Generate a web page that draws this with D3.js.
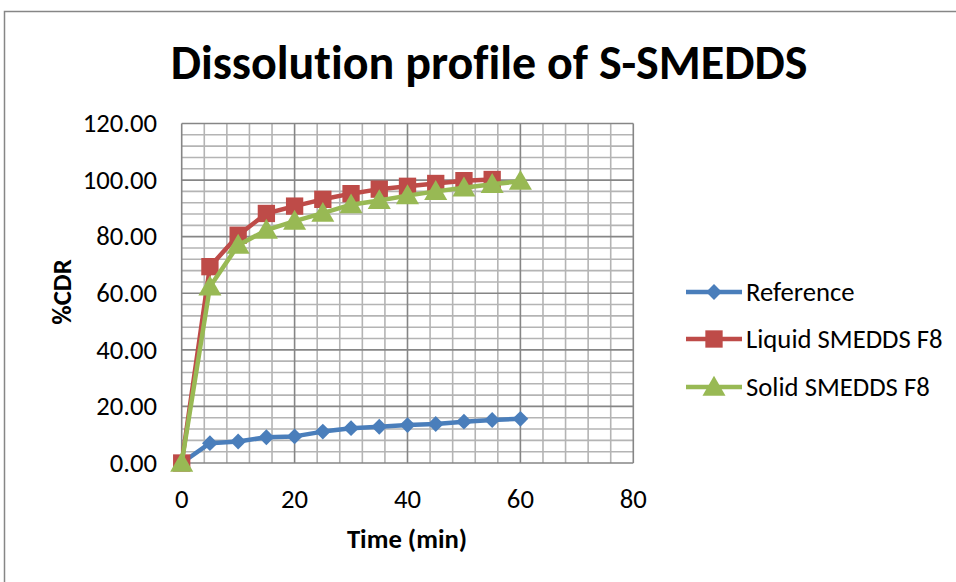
<!DOCTYPE html>
<html>
<head>
<meta charset="utf-8">
<script src="https://cdn.jsdelivr.net/npm/d3@7"></script>
<style>
  body { margin: 0; background: #fff; }
  svg text { font-family: Carlito, Lato, sans-serif; fill: #000; font-variant-ligatures: none; }
</style>
</head>
<body>
<div id="chart"></div>
<script>
// time points (min)
var times = [0, 5, 10, 15, 20, 25, 30, 35, 40, 45, 50, 55, 60];
var timesLiquid = [0, 5, 10, 15, 20, 25, 30, 35, 40, 45, 50, 55];

// %CDR values
var reference = [0, 7.0, 7.6, 9.1, 9.4, 11.1, 12.3, 12.8, 13.4, 13.8, 14.6, 15.2, 15.6];
var liquid = [0, 69.4, 80.5, 88.2, 90.8, 93.2, 95.2, 96.8, 97.8, 98.8, 99.8, 100.2];
var solid = [0, 62.3, 77.0, 82.3, 85.5, 88.3, 91.3, 92.8, 94.5, 96.0, 97.3, 98.5, 99.6];

var seriesNames = ["Reference", "Liquid SMEDDS F8", "Solid SMEDDS F8"];
var xTicks = [0, 20, 40, 60, 80];
var yTicks = [0, 20, 40, 60, 80, 100, 120];

var width = 956, height = 582;
var svg = d3.select("#chart").append("svg")
    .attr("width", width)
    .attr("height", height);

// chart border (only top and left visible in frame)
svg.append("rect")
    .attr("x", 4.5).attr("y", 11.5)
    .attr("width", 1000).attr("height", 700)
    .attr("fill", "none")
    .attr("stroke", "#868686")
    .attr("stroke-width", 1.5);

var plot = {left: 181.7, right: 633.3, top: 123.5, bottom: 463};

var x = d3.scaleLinear().domain([0, 80]).range([plot.left, plot.right]);
var y = d3.scaleLinear().domain([0, 120]).range([plot.bottom, plot.top]);

// minor gridlines every 4
var minor = d3.range(0, 121, 4);
svg.append("g").selectAll("line.mx")
    .data(minor.filter(function (d) { return d <= 80 && d % 20 !== 0; }))
    .enter().append("line")
    .attr("x1", function (d) { return x(d); }).attr("x2", function (d) { return x(d); })
    .attr("y1", plot.top).attr("y2", plot.bottom)
    .attr("stroke", "#b4b4b4").attr("stroke-width", 1.6);
svg.append("g").selectAll("line.my")
    .data(minor.filter(function (d) { return d % 20 !== 0; }))
    .enter().append("line")
    .attr("x1", plot.left).attr("x2", plot.right)
    .attr("y1", function (d) { return y(d); }).attr("y2", function (d) { return y(d); })
    .attr("stroke", "#b4b4b4").attr("stroke-width", 1.6);

// major gridlines
svg.append("g").selectAll("line")
    .data(xTicks)
    .enter().append("line")
    .attr("x1", function (d) { return x(d); }).attr("x2", function (d) { return x(d); })
    .attr("y1", plot.top).attr("y2", plot.bottom)
    .attr("stroke", "#868686").attr("stroke-width", 1.6);
svg.append("g").selectAll("line")
    .data(yTicks)
    .enter().append("line")
    .attr("x1", plot.left).attr("x2", plot.right)
    .attr("y1", function (d) { return y(d); }).attr("y2", function (d) { return y(d); })
    .attr("stroke", "#868686").attr("stroke-width", 1.6);

// axes labels
svg.append("g").selectAll("text")
    .data(yTicks)
    .enter().append("text")
    .attr("x", 157)
    .attr("y", function (d) { return y(d); })
    .attr("dy", "0.33em")
    .attr("text-anchor", "end")
    .style("font-size", "26.7px")
    .text(function (d) { return d.toFixed(2); });

svg.append("g").selectAll("text")
    .data(xTicks)
    .enter().append("text")
    .attr("x", function (d) { return x(d); })
    .attr("y", 508)
    .attr("text-anchor", "middle")
    .style("font-size", "26.7px")
    .text(function (d) { return d; });

svg.append("text")
    .attr("x", 407).attr("y", 548)
    .attr("text-anchor", "middle")
    .style("font-size", "26.7px").style("font-weight", "bold")
    .text("Time (min)");

svg.append("text")
    .attr("transform", "translate(71,292) rotate(-90)")
    .attr("text-anchor", "middle")
    .style("font-size", "26.7px").style("font-weight", "bold")
    .text("%CDR");

svg.append("text")
    .attr("x", 489).attr("y", 79)
    .attr("text-anchor", "middle")
    .style("font-size", "48px").style("font-weight", "bold")
    .text("Dissolution profile of S-SMEDDS");

// series
var colors = ["#4a7ebb", "#be4b48", "#98b954"];
var shapes = [
  d3.symbol().type(d3.symbolDiamond2).size(160),
  d3.symbol().type(d3.symbolSquare).size(300),
  d3.symbol().type(d3.symbolTriangle).size(230)
];
var seriesData = [
  times.map(function (t, i) { return [t, reference[i]]; }),
  timesLiquid.map(function (t, i) { return [t, liquid[i]]; }),
  times.map(function (t, i) { return [t, solid[i]]; })
];

var line = d3.line()
    .x(function (d) { return x(d[0]); })
    .y(function (d) { return y(d[1]); });

seriesData.forEach(function (data, k) {
  var g = svg.append("g");
  g.append("path")
      .datum(data)
      .attr("d", line)
      .attr("fill", "none")
      .attr("stroke", colors[k])
      .attr("stroke-width", 4.5)
      .attr("stroke-linejoin", "round");
  g.selectAll("path.m")
      .data(data)
      .enter().append("path")
      .attr("class", "m")
      .attr("transform", function (d) {
        return "translate(" + x(d[0]) + "," + (y(d[1]) + (k === 2 ? 2 : 0)) + ")";
      })
      .attr("d", shapes[k]())
      .attr("fill", colors[k]);
});

// legend
var legendY = [292, 339, 387];
seriesNames.forEach(function (name, k) {
  var g = svg.append("g").attr("transform", "translate(0," + legendY[k] + ")");
  g.append("line")
      .attr("x1", 686).attr("x2", 742)
      .attr("stroke", colors[k]).attr("stroke-width", 4.5);
  g.append("path")
      .attr("transform", "translate(714," + (k === 2 ? 2 : 0) + ")")
      .attr("d", shapes[k]())
      .attr("fill", colors[k]);
  g.append("text")
      .attr("x", 746)
      .attr("dy", "0.33em")
      .style("font-size", "26.7px")
      .text(name);
});
</script>
</body>
</html>
